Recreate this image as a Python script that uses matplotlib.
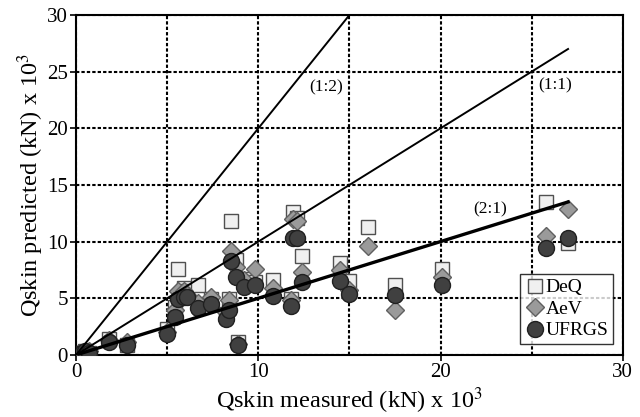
import numpy as np
import matplotlib
matplotlib.use("Agg")
import matplotlib.pyplot as plt

plt.rcParams['font.family'] = ['Liberation Serif', 'DejaVu Serif']
plt.rcParams['mathtext.fontset'] = 'stix'

# Measured skin friction per pile (kN x 10^3)
measured = [0.1, 0.2, 0.3, 0.5, 0.7, 1.8, 2.8, 5.0, 5.4, 5.6, 5.9, 6.1, 6.7, 7.4,
            8.2, 8.4, 8.5, 8.8, 8.9, 9.2, 9.8, 10.8, 11.8, 11.9, 12.1, 12.4,
            14.5, 15.0, 16.0, 17.5, 20.1, 25.8, 27.0]

# Predicted skin friction by method
deq = [0.1, 0.2, 0.1, 0.3, 0.2, 1.4, 0.9, 2.3, 4.2, 7.6, 5.9, 5.6, 6.2, 4.9,
       3.6, 4.9, 11.8, 8.4, 1.1, 6.7, 6.4, 6.6, 4.9, 12.6, 12.1, 8.7,
       8.1, 6.5, 11.3, 6.2, 7.6, 13.5, 9.9]
aev = [0.1, 0.1, 0.2, 0.2, 0.3, 1.3, 1.1, 2.0, 4.0, 5.6, 5.6, 5.3, 4.6, 5.1,
       3.8, 4.8, 9.2, 7.8, 1.0, 6.6, 7.6, 5.9, 4.8, 12.0, 11.8, 7.3,
       7.5, 5.7, 9.6, 4.0, 6.9, 10.5, 12.9]
ufrgs = [0.1, 0.05, 0.2, 0.3, 0.2, 1.15, 0.9, 1.8, 3.35, 4.9, 5.15, 5.15, 4.1, 4.5,
         3.2, 4.0, 8.3, 6.9, 0.9, 6.0, 6.2, 5.2, 4.3, 10.3, 10.3, 6.4,
         6.5, 5.35, np.nan, 5.25, 6.2, 9.4, 10.3]

# Reference ratio lines: slope and end abscissa
ratio_slopes = [2.0, 1.0, 0.5]
ratio_ends = [15.0, 27.0, 27.0]
ratio_labels = ['(1:2)', '(1:1)', '(2:1)']
ratio_label_pos = [(13.7, 23.6), (26.3, 23.8), (22.7, 12.8)]

fig = plt.figure(figsize=(6.4, 4.17), dpi=100)
ax = fig.add_axes([0.119, 0.149, 0.854, 0.815])

ax.set_xlim(0, 30)
ax.set_ylim(0, 30)

ax.plot(measured, deq, linestyle='none', marker='s', markersize=10.5,
        markerfacecolor='#f0f0f0', markeredgecolor='#505050', markeredgewidth=1.0,
        label='DeQ', zorder=3)
ax.plot(measured, aev, linestyle='none', marker='D', markersize=9.5,
        markerfacecolor='#9a9a9a', markeredgecolor='#606060', markeredgewidth=1.0,
        label='AeV', zorder=4)
ax.plot(measured, ufrgs, linestyle='none', marker='o', markersize=11.5,
        markerfacecolor='#404040', markeredgecolor='#202020', markeredgewidth=1.0,
        label='UFRGS', zorder=5)

for slope, xend, lw in zip(ratio_slopes, ratio_ends, [1.4, 1.4, 2.4]):
    xs = np.array([0.0, xend])
    ax.plot(xs, slope * xs, color='black', linewidth=lw, zorder=6)

for txt, (tx, ty) in zip(ratio_labels, ratio_label_pos):
    ax.text(tx, ty, txt, fontsize=12.5, ha='center', va='center', zorder=7)

ax.set_xticks([0, 10, 20, 30])
ax.set_xticks([5, 15, 25], minor=True)
ax.set_yticks([0, 5, 10, 15, 20, 25, 30])
ax.grid(True, which='both', color='black', linestyle=(0, (1.6, 1.0)), linewidth=1.5, zorder=1)
ax.set_axisbelow(True)

ax.tick_params(axis='both', which='major', labelsize=15, direction='out',
               length=4, width=1.2, colors='black', pad=2)
ax.tick_params(axis='x', which='minor', length=0)
for sp in ax.spines.values():
    sp.set_linewidth(1.5)
    sp.set_color('black')

ax.set_xlabel('Qskin measured (kN) x 10$^3$', fontsize=17.5, labelpad=2)
ax.set_ylabel('Qskin predicted (kN) x 10$^3$', fontsize=17.5, labelpad=1)

leg = ax.legend(loc='lower right', bbox_to_anchor=(0.99, 0.02), fontsize=14,
                frameon=True, fancybox=False, edgecolor='black',
                handletextpad=0.05, handlelength=1.0, borderpad=0.25,
                labelspacing=0.2, borderaxespad=0.2)
leg.get_frame().set_linewidth(1.0)
leg.set_zorder(10)

fig.savefig('out.png', dpi=100)
